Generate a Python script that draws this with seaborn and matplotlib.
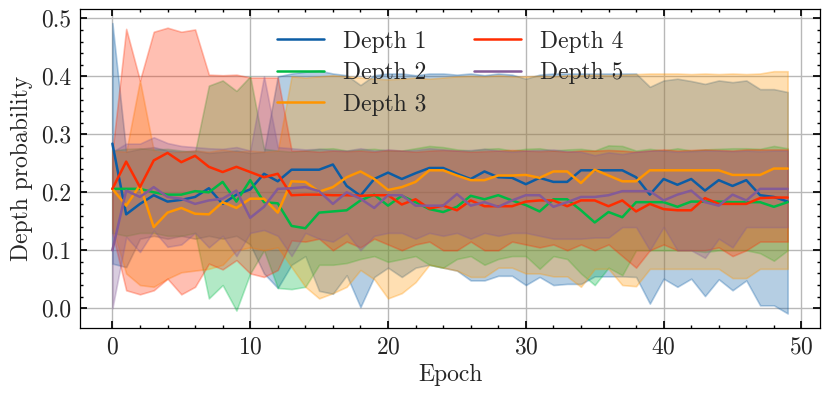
import numpy as np
import pandas as pd
import matplotlib
matplotlib.use("Agg")
import matplotlib.pyplot as plt
import seaborn as sns

epochs = list(range(50))
depth_names = ["Depth 1", "Depth 2", "Depth 3", "Depth 4", "Depth 5"]
colors = ["#0C5DA5", "#00B945", "#FF9500", "#FF2C00", "#845B97"]

mean_d1 = [0.284, 0.162, 0.180, 0.195, 0.184, 0.187, 0.192, 0.207, 0.180, 0.196,
           0.205, 0.232, 0.219, 0.239, 0.239, 0.239, 0.248, 0.211, 0.194, 0.223,
           0.234, 0.223, 0.233, 0.242, 0.242, 0.232, 0.223, 0.236, 0.226, 0.225,
           0.214, 0.225, 0.218, 0.218, 0.238, 0.238, 0.238, 0.238, 0.226, 0.196,
           0.223, 0.213, 0.223, 0.203, 0.221, 0.211, 0.221, 0.195, 0.192, 0.184]
mean_d2 = [0.206, 0.206, 0.206, 0.200, 0.196, 0.196, 0.202, 0.200, 0.218, 0.184,
           0.221, 0.183, 0.181, 0.142, 0.138, 0.165, 0.167, 0.169, 0.186, 0.196,
           0.177, 0.194, 0.183, 0.171, 0.166, 0.175, 0.194, 0.188, 0.195, 0.186,
           0.178, 0.167, 0.188, 0.188, 0.169, 0.148, 0.166, 0.157, 0.183, 0.183,
           0.183, 0.175, 0.184, 0.184, 0.184, 0.183, 0.183, 0.183, 0.175, 0.183]
mean_d3 = [0.206, 0.177, 0.212, 0.140, 0.165, 0.173, 0.163, 0.162, 0.183, 0.173,
           0.189, 0.189, 0.165, 0.219, 0.218, 0.201, 0.209, 0.226, 0.236, 0.223,
           0.204, 0.209, 0.218, 0.238, 0.238, 0.229, 0.221, 0.221, 0.229, 0.229,
           0.230, 0.225, 0.236, 0.236, 0.216, 0.239, 0.229, 0.219, 0.219, 0.238,
           0.238, 0.238, 0.238, 0.238, 0.238, 0.230, 0.230, 0.230, 0.241, 0.241]
mean_d4 = [0.206, 0.253, 0.209, 0.255, 0.268, 0.252, 0.263, 0.244, 0.235, 0.244,
           0.235, 0.226, 0.232, 0.195, 0.196, 0.196, 0.195, 0.195, 0.194, 0.195,
           0.195, 0.179, 0.188, 0.172, 0.177, 0.169, 0.186, 0.176, 0.176, 0.176,
           0.184, 0.186, 0.186, 0.176, 0.186, 0.186, 0.176, 0.186, 0.167, 0.180,
           0.171, 0.169, 0.169, 0.190, 0.180, 0.180, 0.180, 0.190, 0.191, 0.191]
mean_d5 = [0.100, 0.203, 0.192, 0.209, 0.192, 0.189, 0.180, 0.186, 0.189, 0.203,
           0.156, 0.175, 0.206, 0.207, 0.209, 0.202, 0.180, 0.200, 0.189, 0.173,
           0.195, 0.195, 0.177, 0.177, 0.177, 0.197, 0.177, 0.183, 0.175, 0.186,
           0.195, 0.195, 0.175, 0.183, 0.192, 0.192, 0.195, 0.202, 0.202, 0.202,
           0.186, 0.196, 0.203, 0.183, 0.177, 0.196, 0.186, 0.206, 0.206, 0.206]

upper_d1 = [0.492, 0.270, 0.275, 0.278, 0.272, 0.270, 0.272, 0.268, 0.270, 0.272,
            0.268, 0.270, 0.400, 0.405, 0.408, 0.410, 0.405, 0.402, 0.385, 0.402,
            0.405, 0.405, 0.402, 0.405, 0.405, 0.403, 0.405, 0.402, 0.405, 0.403,
            0.396, 0.403, 0.405, 0.405, 0.405, 0.405, 0.405, 0.405, 0.405, 0.382,
            0.393, 0.396, 0.392, 0.387, 0.393, 0.390, 0.393, 0.378, 0.378, 0.373]
upper_d2 = [0.272, 0.275, 0.276, 0.274, 0.275, 0.272, 0.270, 0.384, 0.393, 0.375,
            0.400, 0.275, 0.272, 0.270, 0.272, 0.275, 0.276, 0.272, 0.274, 0.275,
            0.272, 0.272, 0.276, 0.280, 0.278, 0.274, 0.272, 0.275, 0.276, 0.272,
            0.275, 0.276, 0.272, 0.274, 0.275, 0.272, 0.281, 0.280, 0.272, 0.275,
            0.272, 0.276, 0.272, 0.274, 0.275, 0.276, 0.276, 0.275, 0.280, 0.276]
upper_d3 = [0.272, 0.270, 0.393, 0.272, 0.268, 0.270, 0.272, 0.270, 0.274, 0.270,
            0.272, 0.270, 0.272, 0.400, 0.398, 0.400, 0.402, 0.400, 0.398, 0.396,
            0.395, 0.396, 0.398, 0.396, 0.398, 0.400, 0.401, 0.400, 0.402, 0.400,
            0.400, 0.401, 0.400, 0.402, 0.402, 0.403, 0.402, 0.403, 0.404, 0.405,
            0.405, 0.405, 0.404, 0.405, 0.404, 0.405, 0.404, 0.405, 0.409, 0.409]
upper_d4 = [0.270, 0.482, 0.393, 0.477, 0.484, 0.477, 0.481, 0.403, 0.402, 0.403,
            0.398, 0.398, 0.398, 0.272, 0.272, 0.270, 0.272, 0.271, 0.272, 0.270,
            0.273, 0.272, 0.270, 0.272, 0.273, 0.272, 0.270, 0.271, 0.272, 0.273,
            0.272, 0.271, 0.272, 0.270, 0.272, 0.272, 0.273, 0.272, 0.270, 0.272,
            0.274, 0.272, 0.273, 0.274, 0.273, 0.272, 0.274, 0.274, 0.274, 0.274]
upper_d5 = [0.270, 0.284, 0.284, 0.295, 0.285, 0.280, 0.278, 0.276, 0.275, 0.278,
            0.272, 0.400, 0.278, 0.276, 0.274, 0.275, 0.273, 0.272, 0.276, 0.272,
            0.274, 0.272, 0.273, 0.276, 0.274, 0.272, 0.273, 0.275, 0.272, 0.270,
            0.272, 0.273, 0.274, 0.271, 0.270, 0.264, 0.269, 0.266, 0.270, 0.272,
            0.272, 0.270, 0.271, 0.272, 0.272, 0.271, 0.272, 0.271, 0.272, 0.272]

lower_d1 = [0.077, 0.071, 0.120, 0.125, 0.120, 0.125, 0.120, 0.125, 0.120, 0.125,
            0.110, 0.060, 0.035, 0.075, 0.090, 0.030, 0.025, 0.057, 0.002, 0.054,
            0.070, 0.054, 0.070, 0.075, 0.070, 0.065, 0.048, 0.048, 0.056, 0.056,
            0.040, 0.054, 0.040, 0.042, 0.042, 0.055, 0.055, 0.055, 0.054, 0.008,
            0.051, 0.037, 0.051, 0.021, 0.050, 0.031, 0.048, 0.005, 0.005, -0.009]
lower_d2 = [0.130, 0.125, 0.130, 0.130, 0.125, 0.125, 0.130, 0.017, 0.040, -0.004,
            0.060, 0.100, 0.035, 0.033, 0.037, 0.075, 0.075, 0.078, 0.085, 0.090,
            0.080, 0.085, 0.090, 0.075, 0.070, 0.085, 0.090, 0.075, 0.085, 0.090,
            0.090, 0.068, 0.090, 0.085, 0.060, 0.040, 0.070, 0.057, 0.100, 0.100,
            0.100, 0.100, 0.100, 0.097, 0.100, 0.100, 0.100, 0.095, 0.082, 0.100]
lower_d3 = [0.140, 0.060, 0.040, 0.037, 0.051, 0.062, 0.065, 0.068, 0.075, 0.100,
            0.105, 0.100, 0.105, 0.071, 0.037, 0.017, 0.026, 0.037, 0.066, 0.050,
            0.017, 0.026, 0.045, 0.075, 0.070, 0.065, 0.054, 0.054, 0.070, 0.070,
            0.060, 0.060, 0.055, 0.055, 0.037, 0.068, 0.068, 0.040, 0.038, 0.068,
            0.068, 0.068, 0.068, 0.068, 0.068, 0.052, 0.052, 0.068, 0.068, 0.068]
lower_d4 = [0.130, 0.031, 0.024, 0.031, 0.051, 0.024, 0.037, 0.077, 0.067, 0.083,
            0.060, 0.054, 0.066, 0.117, 0.115, 0.120, 0.100, 0.115, 0.105, 0.120,
            0.110, 0.100, 0.110, 0.115, 0.100, 0.100, 0.115, 0.100, 0.100, 0.115,
            0.110, 0.105, 0.110, 0.100, 0.110, 0.100, 0.110, 0.090, 0.070, 0.100,
            0.110, 0.100, 0.100, 0.100, 0.105, 0.090, 0.100, 0.115, 0.115, 0.115]
lower_d5 = [0.000, 0.123, 0.097, 0.134, 0.106, 0.110, 0.130, 0.105, 0.125, 0.090,
            0.130, 0.135, 0.125, 0.090, 0.130, 0.120, 0.115, 0.130, 0.100, 0.125,
            0.130, 0.130, 0.120, 0.130, 0.125, 0.130, 0.120, 0.130, 0.125, 0.130,
            0.130, 0.125, 0.120, 0.120, 0.120, 0.122, 0.122, 0.140, 0.140, 0.100,
            0.140, 0.100, 0.100, 0.087, 0.120, 0.105, 0.140, 0.140, 0.140, 0.140]

means = [mean_d1, mean_d2, mean_d3, mean_d4, mean_d5]
uppers = [upper_d1, upper_d2, upper_d3, upper_d4, upper_d5]
lowers = [lower_d1, lower_d2, lower_d3, lower_d4, lower_d5]

sns.set_theme(style="ticks")
plt.rcParams.update({
    "font.family": ["cmr10", "DejaVu Serif"],
    "mathtext.fontset": "cm",
    "axes.formatter.use_mathtext": True,
    "font.size": 17,
    "axes.labelsize": 17,
    "xtick.labelsize": 17,
    "ytick.labelsize": 17,
    "legend.fontsize": 17,
    "axes.edgecolor": "black",
    "axes.linewidth": 0.9,
    "xtick.direction": "in",
    "ytick.direction": "in",
    "xtick.top": True,
    "ytick.right": True,
    "xtick.major.size": 5,
    "ytick.major.size": 5,
    "xtick.minor.size": 2.5,
    "ytick.minor.size": 2.5,
    "xtick.minor.visible": True,
    "ytick.minor.visible": True,
})

df = pd.DataFrame({
    "Epoch": np.tile(epochs, 5),
    "prob": np.concatenate(means),
    "Depth": np.repeat(depth_names, len(epochs)),
})

fig = plt.figure(figsize=(8.3, 3.98), dpi=100)
ax = fig.add_axes([0.0964, 0.176, 0.8916, 0.801])

for name, c, lo, hi in zip(depth_names, colors, lowers, uppers):
    ax.fill_between(epochs, lo, hi, color=c, alpha=0.3, linewidth=1.2, zorder=1)

sns.lineplot(data=df, x="Epoch", y="prob", hue="Depth", palette=colors,
             hue_order=depth_names, linewidth=1.8, ax=ax, zorder=3, legend=False)

ax.grid(True, color="#b8b8b8", linewidth=1.0, zorder=0)
ax.set_axisbelow(True)
ax.set_xlabel("Epoch", labelpad=4)
ax.set_ylabel("Depth probability", labelpad=6)
ax.set_xticks([0, 10, 20, 30, 40, 50])
ax.set_yticks([0.0, 0.1, 0.2, 0.3, 0.4, 0.5])
ax.set_xticks(np.arange(0, 51, 2), minor=True)
ax.set_yticks(np.arange(0, 0.52, 0.02), minor=True)
ax.set_yticklabels(["0.0", "0.1", "0.2", "0.3", "0.4", "0.5"])
ax.set_xlim(-2.35, 51.35)
ax.set_ylim(-0.034, 0.516)
ax.tick_params(which="both", color="black")
ax.tick_params(which="major", pad=6)

handles = [plt.Line2D([], [], color=c, linewidth=1.8) for c in colors]
ax.legend(handles, depth_names, loc="upper center", ncol=2, frameon=False,
          handlelength=2.0, columnspacing=2.0, labelspacing=0.4,
          bbox_to_anchor=(0.5, 1.0))

fig.savefig("out.png", dpi=100)
